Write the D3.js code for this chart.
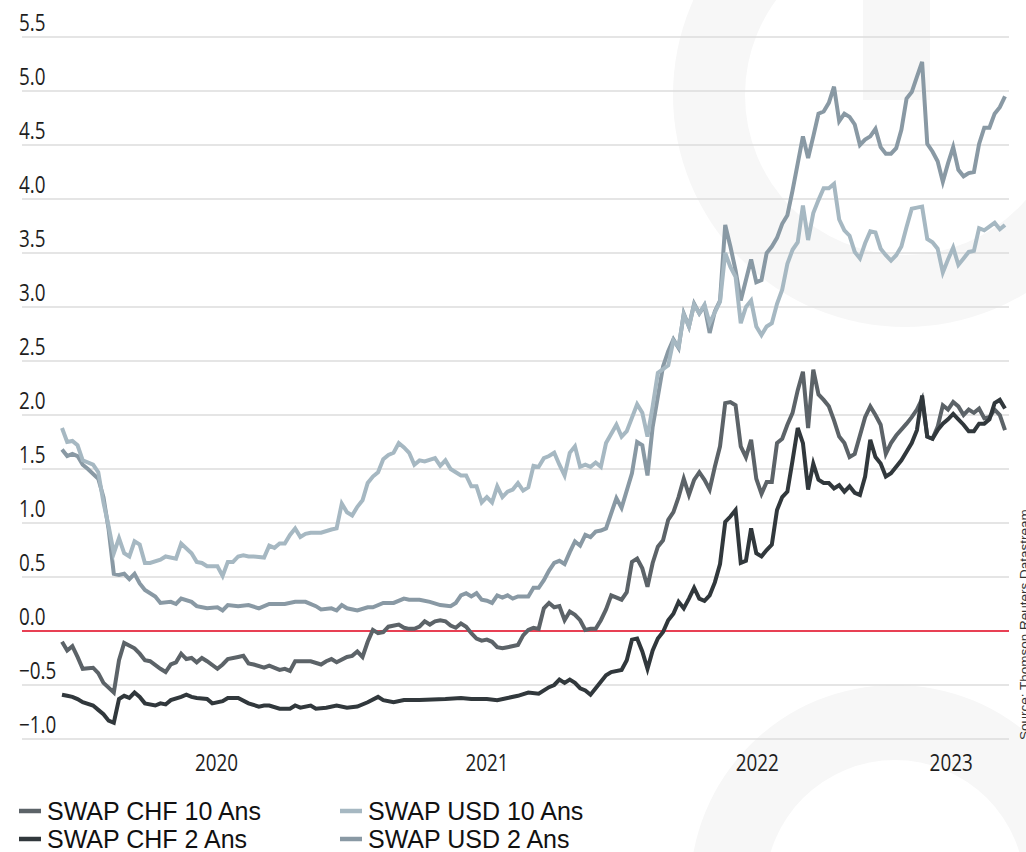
<!DOCTYPE html>
<html>
<head>
<meta charset="utf-8">
<script src="https://cdn.jsdelivr.net/npm/d3@7/dist/d3.min.js"></script>
<style>
    html, body { margin: 0; padding: 0; background: #fff; }
    svg { display: block; }
    .tick-label { font-family: "Open Sans", sans-serif; font-size: 23px; fill: #1e1e1e; }
    .legend-label { font-family: "Liberation Sans", Arial, sans-serif; font-size: 25px; fill: #111; }
    .source { font-family: "Liberation Sans", Arial, sans-serif; font-size: 13.5px; fill: #333; }
</style>
</head>
<body>
<svg id="chart" width="1026" height="852"></svg>
<script>
// Weekly observations, index = weeks since the first observation
const startDate = new Date(2019, 11, 13);
const weekCount = 182;

const yTicks = [-1.0, -0.5, 0.0, 0.5, 1.0, 1.5, 2.0, 2.5, 3.0, 3.5, 4.0, 4.5, 5.0, 5.5];
const years = ['2020', '2021', '2022', '2023'];

const seriesNames = ['SWAP CHF 10 Ans', 'SWAP USD 10 Ans', 'SWAP CHF 2 Ans', 'SWAP USD 2 Ans'];

const chf10 = [[0,-0.10],[1,-0.18],[2,-0.14],[3,-0.24],[4,-0.35],[6,-0.34],[7,-0.39],[8,-0.48],[10,-0.57],[11,-0.27],[12,-0.11],[14,-0.16],[15,-0.21],[16,-0.27],[17,-0.28],[19,-0.35],[20,-0.38],[21,-0.31],[22,-0.29],[23,-0.21],[24,-0.26],[25,-0.25],[26,-0.29],[27,-0.25],[28,-0.28],[30,-0.35],[31,-0.31],[32,-0.26],[34,-0.24],[35,-0.23],[36,-0.30],[37,-0.31],[39,-0.34],[40,-0.32],[42,-0.36],[43,-0.35],[44,-0.37],[45,-0.28],[47,-0.28],[48,-0.28],[50,-0.31],[51,-0.28],[52,-0.26],[53,-0.29],[55,-0.24],[56,-0.23],[57,-0.19],[58,-0.24],[59,-0.10],[60,0.01],[61,-0.02],[62,-0.01],[63,0.04],[65,0.06],[66,0.03],[67,0.02],[68,0.02],[69,0.04],[70,0.09],[71,0.06],[72,0.09],[73,0.10],[74,0.09],[75,0.05],[76,0.03],[77,0.07],[78,0.04],[79,-0.02],[80,-0.07],[81,-0.09],[82,-0.08],[83,-0.10],[84,-0.15],[85,-0.16],[86,-0.15],[88,-0.13],[89,-0.04],[90,0.01],[91,0.03],[92,0.02],[93,0.21],[94,0.26],[95,0.22],[96,0.23],[97,0.10],[98,0.18],[99,0.15],[100,0.10],[101,0.01],[102,0.02],[103,0.02],[104,0.10],[105,0.20],[106,0.33],[108,0.29],[109,0.36],[110,0.64],[111,0.67],[112,0.58],[113,0.41],[114,0.63],[115,0.78],[116,0.84],[117,1.03],[118,1.10],[119,1.24],[120,1.41],[121,1.26],[122,1.40],[123,1.47],[124,1.40],[125,1.31],[126,1.52],[127,1.71],[128,2.11],[129,2.12],[130,2.09],[131,1.71],[132,1.61],[133,1.77],[134,1.41],[135,1.27],[136,1.38],[137,1.38],[138,1.74],[139,1.78],[140,1.91],[141,2.02],[142,2.23],[143,2.40],[144,1.88],[145,2.42],[146,2.19],[147,2.14],[148,2.08],[149,1.95],[150,1.80],[151,1.74],[152,1.61],[153,1.64],[155,1.98],[156,2.08],[157,2.00],[158,1.91],[159,1.64],[160,1.74],[161,1.81],[163,1.92],[164,1.98],[165,2.05],[166,2.15],[167,1.80],[168,1.78],[169,1.89],[170,2.09],[171,2.05],[172,2.12],[173,2.08],[174,2.00],[175,2.05],[176,2.02],[177,2.06],[178,1.97],[179,1.98],[180,2.05],[181,2.00],[182,1.86]];

const chf2 = [[0,-0.59],[1,-0.60],[2,-0.61],[3,-0.63],[4,-0.66],[6,-0.69],[7,-0.73],[8,-0.77],[9,-0.83],[10,-0.85],[11,-0.63],[12,-0.60],[13,-0.62],[14,-0.57],[15,-0.61],[16,-0.67],[18,-0.69],[19,-0.67],[20,-0.68],[21,-0.64],[23,-0.61],[24,-0.59],[25,-0.61],[26,-0.62],[28,-0.63],[29,-0.67],[31,-0.65],[32,-0.62],[34,-0.62],[36,-0.67],[38,-0.70],[39,-0.69],[40,-0.69],[42,-0.72],[44,-0.72],[45,-0.69],[46,-0.71],[48,-0.69],[49,-0.72],[51,-0.71],[53,-0.69],[55,-0.71],[57,-0.70],[59,-0.66],[61,-0.61],[62,-0.64],[64,-0.66],[66,-0.64],[69,-0.64],[74,-0.63],[77,-0.62],[79,-0.63],[82,-0.63],[84,-0.64],[86,-0.62],[88,-0.60],[90,-0.57],[92,-0.58],[94,-0.52],[95,-0.50],[96,-0.45],[97,-0.48],[98,-0.45],[99,-0.48],[100,-0.53],[101,-0.55],[102,-0.59],[103,-0.53],[105,-0.41],[106,-0.38],[108,-0.36],[109,-0.27],[110,-0.08],[111,-0.07],[112,-0.19],[113,-0.35],[114,-0.18],[115,-0.07],[116,-0.01],[117,0.10],[118,0.16],[119,0.27],[120,0.21],[121,0.30],[122,0.40],[123,0.30],[124,0.28],[125,0.33],[126,0.45],[127,0.62],[128,1.01],[129,1.06],[130,1.12],[131,0.63],[132,0.65],[133,0.95],[134,0.72],[135,0.69],[136,0.75],[137,0.80],[138,1.12],[139,1.24],[140,1.29],[141,1.58],[142,1.88],[143,1.74],[144,1.31],[145,1.55],[146,1.40],[147,1.37],[148,1.37],[149,1.32],[150,1.35],[151,1.29],[152,1.34],[153,1.28],[154,1.26],[155,1.43],[156,1.77],[157,1.61],[158,1.55],[159,1.43],[160,1.46],[161,1.52],[162,1.58],[163,1.66],[164,1.74],[165,1.86],[166,2.18],[167,1.80],[168,1.78],[169,1.86],[170,1.92],[171,1.96],[172,2.01],[173,1.96],[174,1.91],[175,1.85],[176,1.85],[177,1.92],[178,1.92],[179,1.96],[180,2.11],[181,2.14],[182,2.06]];

const usd10 = [[0,1.88],[1,1.75],[2,1.76],[3,1.72],[4,1.58],[6,1.54],[7,1.47],[8,1.19],[9,0.97],[10,0.72],[11,0.86],[12,0.72],[13,0.69],[14,0.83],[15,0.80],[16,0.63],[17,0.63],[19,0.66],[20,0.69],[22,0.67],[23,0.81],[25,0.72],[26,0.64],[27,0.63],[28,0.60],[30,0.60],[31,0.51],[32,0.64],[33,0.64],[34,0.69],[35,0.70],[36,0.69],[37,0.69],[39,0.68],[40,0.79],[41,0.77],[42,0.81],[43,0.81],[44,0.89],[45,0.95],[46,0.87],[47,0.90],[48,0.91],[50,0.91],[52,0.94],[53,0.95],[54,1.18],[55,1.10],[56,1.07],[57,1.15],[58,1.21],[59,1.37],[60,1.43],[61,1.47],[62,1.59],[63,1.63],[64,1.65],[65,1.74],[66,1.70],[67,1.65],[68,1.54],[69,1.58],[70,1.57],[72,1.60],[73,1.53],[74,1.58],[75,1.50],[76,1.47],[77,1.44],[78,1.44],[79,1.34],[80,1.34],[81,1.19],[82,1.24],[83,1.19],[84,1.34],[85,1.24],[86,1.29],[87,1.31],[88,1.37],[89,1.30],[90,1.33],[91,1.53],[92,1.52],[93,1.60],[94,1.62],[95,1.65],[96,1.54],[97,1.44],[98,1.65],[99,1.71],[100,1.52],[101,1.54],[102,1.52],[103,1.56],[104,1.52],[105,1.74],[107,1.91],[108,1.80],[109,1.85],[111,2.10],[112,2.02],[113,1.80],[114,2.08],[115,2.39],[117,2.46],[118,2.69],[119,2.63],[120,2.93],[121,2.82],[122,3.02],[123,2.94],[124,3.02],[125,2.85],[126,2.95],[127,3.05],[128,3.50],[129,3.37],[130,3.28],[131,2.85],[132,3.00],[133,3.06],[134,2.82],[135,2.74],[136,2.82],[137,2.85],[138,3.03],[139,3.16],[140,3.40],[141,3.53],[142,3.60],[143,3.94],[144,3.62],[145,3.87],[146,3.99],[147,4.10],[148,4.10],[149,4.14],[150,3.81],[151,3.71],[152,3.66],[153,3.51],[154,3.45],[155,3.59],[156,3.70],[157,3.69],[158,3.54],[159,3.48],[160,3.43],[161,3.48],[162,3.56],[163,3.74],[164,3.91],[165,3.92],[166,3.93],[167,3.63],[168,3.60],[169,3.54],[170,3.32],[171,3.44],[172,3.55],[173,3.39],[174,3.45],[175,3.51],[176,3.52],[177,3.73],[178,3.71],[180,3.78],[181,3.72],[182,3.76]];

const usd2 = [[0,1.68],[1,1.62],[2,1.64],[3,1.62],[4,1.54],[5,1.50],[7,1.41],[8,1.24],[9,0.94],[10,0.53],[11,0.52],[12,0.53],[13,0.48],[14,0.53],[15,0.44],[16,0.38],[18,0.32],[19,0.26],[21,0.27],[22,0.25],[23,0.30],[25,0.27],[26,0.23],[28,0.21],[30,0.22],[31,0.19],[32,0.24],[34,0.23],[36,0.24],[38,0.21],[40,0.25],[43,0.25],[45,0.27],[47,0.27],[49,0.23],[50,0.20],[52,0.21],[53,0.19],[54,0.24],[55,0.21],[57,0.19],[59,0.22],[60,0.22],[62,0.26],[64,0.26],[66,0.30],[67,0.29],[69,0.29],[71,0.27],[73,0.24],[75,0.23],[76,0.26],[77,0.33],[78,0.35],[79,0.32],[80,0.35],[81,0.29],[82,0.28],[83,0.26],[84,0.33],[85,0.31],[86,0.33],[87,0.30],[88,0.32],[90,0.32],[91,0.40],[92,0.40],[93,0.47],[94,0.56],[95,0.63],[96,0.65],[97,0.62],[98,0.73],[99,0.83],[100,0.79],[101,0.89],[102,0.87],[103,0.92],[104,0.93],[105,0.95],[107,1.23],[108,1.14],[110,1.46],[111,1.75],[112,1.72],[113,1.44],[114,1.89],[116,2.45],[117,2.59],[118,2.70],[119,2.62],[120,2.94],[121,2.82],[122,3.03],[123,2.94],[124,3.01],[125,2.76],[126,2.96],[127,3.06],[128,3.76],[129,3.56],[130,3.34],[131,3.06],[132,3.25],[133,3.44],[134,3.23],[135,3.25],[136,3.50],[137,3.56],[138,3.64],[139,3.77],[140,3.85],[141,4.08],[142,4.33],[143,4.58],[144,4.38],[145,4.58],[146,4.79],[147,4.81],[148,4.89],[149,5.04],[150,4.72],[151,4.79],[152,4.76],[153,4.69],[154,4.50],[155,4.55],[156,4.58],[157,4.65],[158,4.48],[159,4.42],[160,4.42],[161,4.47],[162,4.64],[163,4.93],[164,4.99],[165,5.13],[166,5.27],[167,4.51],[168,4.44],[169,4.35],[170,4.16],[171,4.33],[172,4.48],[173,4.27],[174,4.21],[175,4.24],[176,4.25],[177,4.51],[178,4.66],[179,4.66],[180,4.79],[181,4.85],[182,4.95]];

/**
 * Visual configs.
 */
const plot = { left: 62, right: 1005, top: 37, bottom: 739 },
    gridLeft = 22,
    gridRight = 1009,
    yearShift = 5, // year labels sit a little right of the year's centre
    condense = 0.82; // tick labels use a narrow face

const colors = {
    'SWAP CHF 10 Ans': '#5c6368',
    'SWAP CHF 2 Ans': '#31383c',
    'SWAP USD 10 Ans': '#a6b8c2',
    'SWAP USD 2 Ans': '#8999a4'
};

const series = [
    { name: 'SWAP CHF 10 Ans', values: chf10 },
    { name: 'SWAP CHF 2 Ans', values: chf2 },
    { name: 'SWAP USD 2 Ans', values: usd2 },
    { name: 'SWAP USD 10 Ans', values: usd10 }
];

const endDate = d3.timeWeek.offset(startDate, weekCount);
const date = w => d3.timeWeek.offset(startDate, w[0]);

const x = d3.scaleTime().domain([startDate, endDate]).range([plot.left, plot.right]);
const y = d3.scaleLinear().domain([-1, 5.5]).range([plot.bottom, plot.top]);

const svg = d3.select('#chart');

// Watermark (faint logo shapes behind the chart)
const mark = svg.append('g').attr('fill', '#f7f7f7');
mark.append('path')
    .attr('transform', 'translate(905,95)')
    .attr('d', d3.arc()({ innerRadius: 160, outerRadius: 232, startAngle: 0, endAngle: 2 * Math.PI }));
mark.append('rect').attr('x', 863).attr('y', 0).attr('width', 67).attr('height', 100);
mark.append('path')
    .attr('transform', 'translate(895,890)')
    .attr('d', d3.arc()({ innerRadius: 130, outerRadius: 205, startAngle: -Math.PI / 2, endAngle: Math.PI / 2 }));

// Grid lines
svg.append('g').selectAll('line')
    .data(yTicks)
    .join('line')
    .attr('x1', gridLeft).attr('x2', gridRight)
    .attr('y1', d => y(d)).attr('y2', d => y(d))
    .attr('stroke', d => d === 0 ? '#e0001b' : '#dcdcdc')
    .attr('stroke-width', d => d === 0 ? 1.6 : 1.4);

// Y labels, sitting just above their grid line
svg.append('g').selectAll('g')
    .data(yTicks)
    .join('g')
    .attr('transform', d => 'translate(' + 19 + ',' + (y(d) - 6) + ') scale(' + condense + ',1)')
    .append('text')
    .attr('class', 'tick-label')
    .text(d => d3.format('.1f')(d));

// Year labels centred in each year's span
const yearCenter = yr => {
    const a = d3.max([new Date(+yr, 0, 1), startDate]),
        b = d3.min([new Date(+yr + 1, 0, 1), endDate]);
    return (x(a) + x(b)) / 2 + yearShift;
};
svg.append('g').selectAll('g')
    .data(years)
    .join('g')
    .attr('transform', d => 'translate(' + yearCenter(d) + ',771) scale(' + condense + ',1)')
    .append('text')
    .attr('class', 'tick-label')
    .attr('text-anchor', 'middle')
    .text(d => d);

// Series lines
const line = d3.line().x(d => x(date(d))).y(d => y(d[1]));
svg.append('g').selectAll('path')
    .data(series)
    .join('path')
    .attr('fill', 'none')
    .attr('stroke', d => colors[d.name])
    .attr('stroke-width', 4)
    .attr('stroke-linejoin', 'miter')
    .attr('d', d => line(d.values));

// Source, rotated at the right edge
svg.append('text')
    .attr('class', 'source')
    .attr('transform', 'translate(1029,740) rotate(-90)')
    .text('Source: Thomson Reuters Datastream');

// Legend, two columns
const legend = svg.append('g').selectAll('g')
    .data(seriesNames)
    .join('g')
    .attr('transform', (d, i) => 'translate(' + (i % 2 ? 340 : 19) + ',' + (i < 2 ? 811 : 839) + ')');
legend.append('line')
    .attr('x1', 0).attr('x2', 22)
    .attr('stroke', d => colors[d])
    .attr('stroke-width', 4.5);
legend.append('text')
    .attr('class', 'legend-label')
    .attr('x', 28)
    .attr('y', 9)
    .text(d => d);
</script>
</body>
</html>
